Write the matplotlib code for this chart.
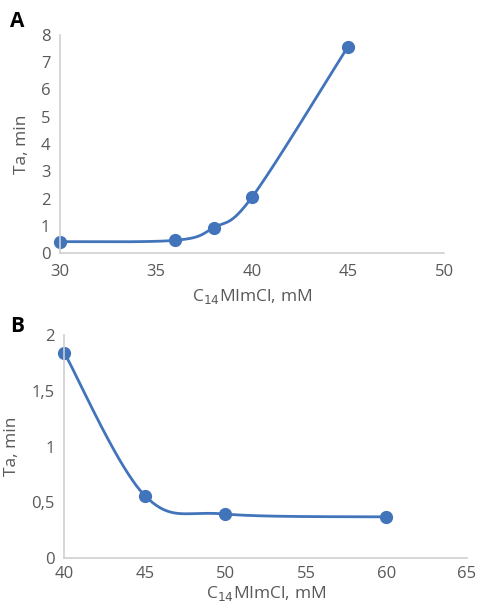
import numpy as np
import matplotlib
matplotlib.use("Agg")
import matplotlib.pyplot as plt
from matplotlib.ticker import FixedLocator, FixedFormatter

plt.rcParams['font.family'] = ['Open Sans', 'DejaVu Sans']

# Panel A
conc_a = [30, 36, 38, 40, 45]
ta_a = [0.42, 0.47, 0.93, 2.05, 7.57]
xticks_a = [30, 35, 40, 45, 50]
yticks_a = [0, 1, 2, 3, 4, 5, 6, 7, 8]

# Panel B
conc_b = [40, 45, 50, 60]
ta_b = [1.84, 0.56, 0.395, 0.37]
xticks_b = [40, 45, 50, 55, 60, 65]
yticks_b = [0, 0.5, 1, 1.5, 2]
ylabels_b = ["0", "0,5", "1", "1,5", "2"]

LINE = "#4274BC"
GRID = "#D0D0D0"
TXT = "#595959"


def smooth(x, y, n=60):
    """Spreadsheet-style smoothed line: cubic Bezier through points."""
    x = np.asarray(x, float)
    y = np.asarray(y, float)
    px, py = [], []
    m = len(x)
    for i in range(m - 1):
        x0, y0 = (x[i - 1], y[i - 1]) if i > 0 else (x[i], y[i])
        x3, y3 = (x[i + 2], y[i + 2]) if i + 2 < m else (x[i + 1], y[i + 1])
        c1 = (x[i] + (x[i + 1] - x0) / 6, y[i] + (y[i + 1] - y0) / 6)
        c2 = (x[i + 1] - (x3 - x[i]) / 6, y[i + 1] - (y3 - y[i]) / 6)
        t = np.linspace(0, 1, n)
        bx = (1 - t) ** 3 * x[i] + 3 * (1 - t) ** 2 * t * c1[0] + 3 * (1 - t) * t ** 2 * c2[0] + t ** 3 * x[i + 1]
        by = (1 - t) ** 3 * y[i] + 3 * (1 - t) ** 2 * t * c1[1] + 3 * (1 - t) * t ** 2 * c2[1] + t ** 3 * y[i + 1]
        px.extend(bx)
        py.extend(by)
    return np.array(px), np.array(py)


def style(ax, xpad=8, xlabelpad=5):
    for s in ("top", "right"):
        ax.spines[s].set_visible(False)
    for s in ("left", "bottom"):
        ax.spines[s].set_color(GRID)
        ax.spines[s].set_linewidth(1.2)
    ax.tick_params(length=0, labelsize=12, colors=TXT)
    ax.tick_params(axis="x", pad=xpad)
    ax.tick_params(axis="y", pad=7)
    ax.set_ylabel("Ta, min", fontsize=12.5, color=TXT, labelpad=8)
    ax.set_xlabel("C$_{14}$MImCl, mM", fontsize=12.5, color=TXT, labelpad=xlabelpad)


fig = plt.figure(figsize=(4.8, 6.1), dpi=100)

ax1 = fig.add_axes([0.125, 0.585, 0.800, 0.358])
sx, sy = smooth(conc_a, ta_a)
ax1.plot(sx, sy, color=LINE, lw=2, solid_capstyle="round")
ax1.plot(conc_a, ta_a, "o", color=LINE, ms=8.5, clip_on=False)
ax1.set_xlim(30, 50)
ax1.set_ylim(0, 8)
ax1.xaxis.set_major_locator(FixedLocator(xticks_a))
ax1.yaxis.set_major_locator(FixedLocator(yticks_a))
style(ax1)

ax2 = fig.add_axes([0.134, 0.085, 0.839, 0.366])
sx, sy = smooth(conc_b, ta_b)
ax2.plot(sx, sy, color=LINE, lw=2, solid_capstyle="round")
ax2.plot(conc_b, ta_b, "o", color=LINE, ms=8.5, clip_on=False)
ax2.set_xlim(40, 65)
ax2.set_ylim(0, 2)
ax2.xaxis.set_major_locator(FixedLocator(xticks_b))
ax2.yaxis.set_major_locator(FixedLocator(yticks_b))
ax2.yaxis.set_major_formatter(FixedFormatter(ylabels_b))
style(ax2, xpad=6, xlabelpad=1)

fig.text(0.021, 0.965, "A", fontsize=15, fontweight="bold", color="black", va="center")
fig.text(0.021, 0.465, "B", fontsize=15, fontweight="bold", color="black", va="center")

fig.savefig("out.png", dpi=100)
